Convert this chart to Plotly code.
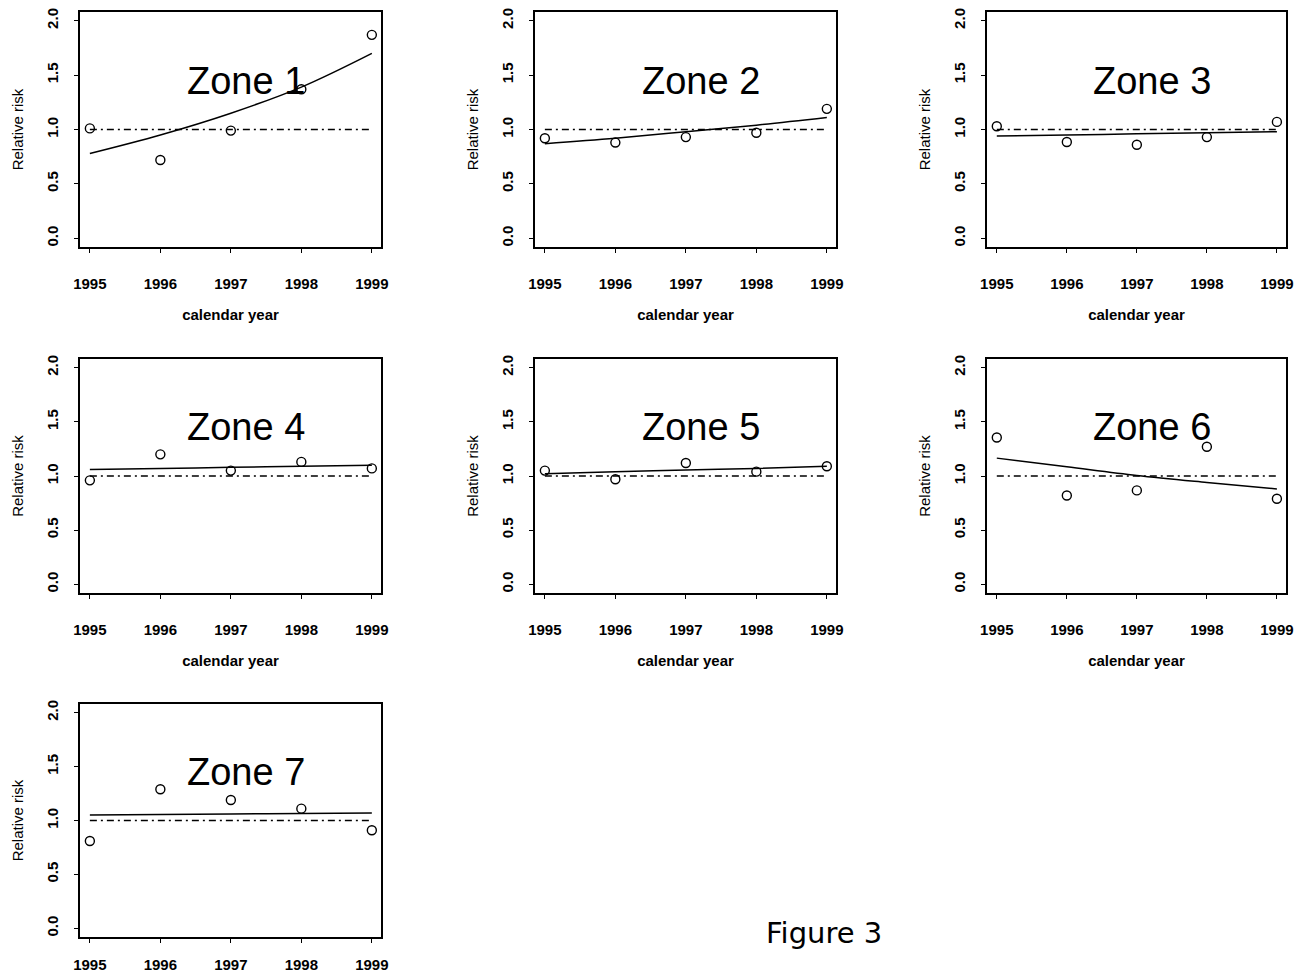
import plotly.graph_objects as go

# ---------------- data ----------------
years = [1995, 1996, 1997, 1998, 1999]
zones = ["Zone 1", "Zone 2", "Zone 3", "Zone 4", "Zone 5", "Zone 6", "Zone 7"]

rr_zone1 = [1.01, 0.72, 0.99, 1.37, 1.87]
rr_zone2 = [0.92, 0.88, 0.93, 0.97, 1.19]
rr_zone3 = [1.03, 0.885, 0.86, 0.93, 1.07]
rr_zone4 = [0.96, 1.20, 1.05, 1.13, 1.07]
rr_zone5 = [1.05, 0.97, 1.12, 1.04, 1.09]
rr_zone6 = [1.355, 0.82, 0.867, 1.27, 0.79]
rr_zone7 = [0.81, 1.29, 1.19, 1.11, 0.91]

fit_zone1 = [0.78, 0.95, 1.15, 1.39, 1.70]
fit_zone2 = [0.87, 0.92, 0.98, 1.04, 1.11]
fit_zone3 = [0.94, 0.95, 0.96, 0.97, 0.98]
fit_zone4 = [1.06, 1.07, 1.08, 1.09, 1.10]
fit_zone5 = [1.02, 1.04, 1.055, 1.07, 1.09]
fit_zone6 = [1.165, 1.085, 1.005, 0.94, 0.88]
fit_zone7 = [1.05, 1.055, 1.06, 1.065, 1.07]

ref_level = [1.0, 1.0]
ref_years = [1995, 1999]

y_ticks = [0.0, 0.5, 1.0, 1.5, 2.0]
y_ticklabels = ["0.0", "0.5", "1.0", "1.5", "2.0"]
x_ticklabels = ["1995", "1996", "1997", "1998", "1999"]

rr_all = [rr_zone1, rr_zone2, rr_zone3, rr_zone4, rr_zone5, rr_zone6, rr_zone7]
fit_all = [fit_zone1, fit_zone2, fit_zone3, fit_zone4, fit_zone5, fit_zone6, fit_zone7]

# ---------------- layout ----------------
# The page body has an 8px margin, so the figure is 8px smaller than the window
# and all pixel positions below are given relative to the figure's own corner.
OFF = 8
W, H = 1310 - OFF, 978 - OFF
boxes_page = [  # left, right, top, bottom in window pixels
    (80, 381, 12, 247),
    (535, 836, 12, 247),
    (987, 1286, 12, 247),
    (80, 381, 359, 593),
    (535, 836, 359, 593),
    (987, 1286, 359, 593),
    (80, 381, 704, 937),
]
boxes = [(l - OFF, r - OFF, t - OFF, b - OFF) for (l, r, t, b) in boxes_page]

FONT = "Liberation Sans, Arial, Helvetica, sans-serif"
fig = go.Figure()

for i in range(7):
    ax = "" if i == 0 else str(i + 1)
    xa, ya = "x" + ax, "y" + ax
    # reference line at RR = 1
    fig.add_trace(go.Scatter(x=ref_years, y=ref_level, mode="lines", xaxis=xa, yaxis=ya,
                             line=dict(color="black", width=1.4, dash="7px,4px,2px,4px"),
                             showlegend=False, hoverinfo="skip"))
    # fitted trend
    fig.add_trace(go.Scatter(x=years, y=fit_all[i], mode="lines", xaxis=xa, yaxis=ya,
                             line=dict(color="black", width=1.5, shape="spline"),
                             showlegend=False))
    # observed relative risks
    fig.add_trace(go.Scatter(x=years, y=rr_all[i], mode="markers", xaxis=xa, yaxis=ya,
                             marker=dict(symbol="circle-open", size=9, color="black",
                                         line=dict(width=1.4, color="black")),
                             showlegend=False))
    l, r, t, b = boxes[i]
    xdict = dict(domain=[l / W, r / W], range=[1994.86, 1999.13], anchor=ya,
                 automargin=False,
                 tickmode="array", tickvals=years, ticktext=x_ticklabels,
                 ticks="outside", ticklen=4, tickwidth=1.2, tickcolor="black",
                 showline=True, mirror=True, linecolor="black", linewidth=1.6,
                 showgrid=False, zeroline=False,
                 tickfont=dict(family=FONT, size=15, color="black", weight="bold"),
                 ticklabelstandoff=18 if i < 6 else 9)
    if i < 6:
        xdict["title"] = dict(text="calendar year", standoff=19,
                              font=dict(family=FONT, size=15, color="black", weight="bold"))
    ydict = dict(domain=[(H - b) / H, (H - t) / H], range=[-0.08, 2.08], anchor=xa,
                 automargin=False,
                 tickmode="array", tickvals=y_ticks, ticktext=y_ticklabels, tickangle=-90,
                 ticks="outside", ticklen=4, tickwidth=1.2, tickcolor="black",
                 showline=True, mirror=True, linecolor="black", linewidth=1.6,
                 showgrid=False, zeroline=False,
                 tickfont=dict(family=FONT, size=15, color="black", weight="bold"),
                 ticklabelstandoff=10,
                 title=dict(text="Relative risk", standoff=17,
                            font=dict(family=FONT, size=15, color="black")))
    fig.layout["xaxis" + ax] = xdict
    fig.layout["yaxis" + ax] = ydict
    fig.add_annotation(x=1997.22, y=1.45, xref=xa, yref=ya, text=zones[i], showarrow=False,
                       font=dict(family=FONT, size=38, color="black"))

fig.add_annotation(x=(824 - OFF) / W, y=(978 - 933) / H, xref="paper", yref="paper",
                   xanchor="center", yanchor="middle",
                   text="Figure 3", showarrow=False,
                   font=dict(family="DejaVu Sans, sans-serif", size=29, color="black"))

fig.update_layout(width=W, height=H, margin=dict(l=0, r=0, t=0, b=0, autoexpand=False),
                  paper_bgcolor="white", plot_bgcolor="white")

fig.write_html("out.html")
